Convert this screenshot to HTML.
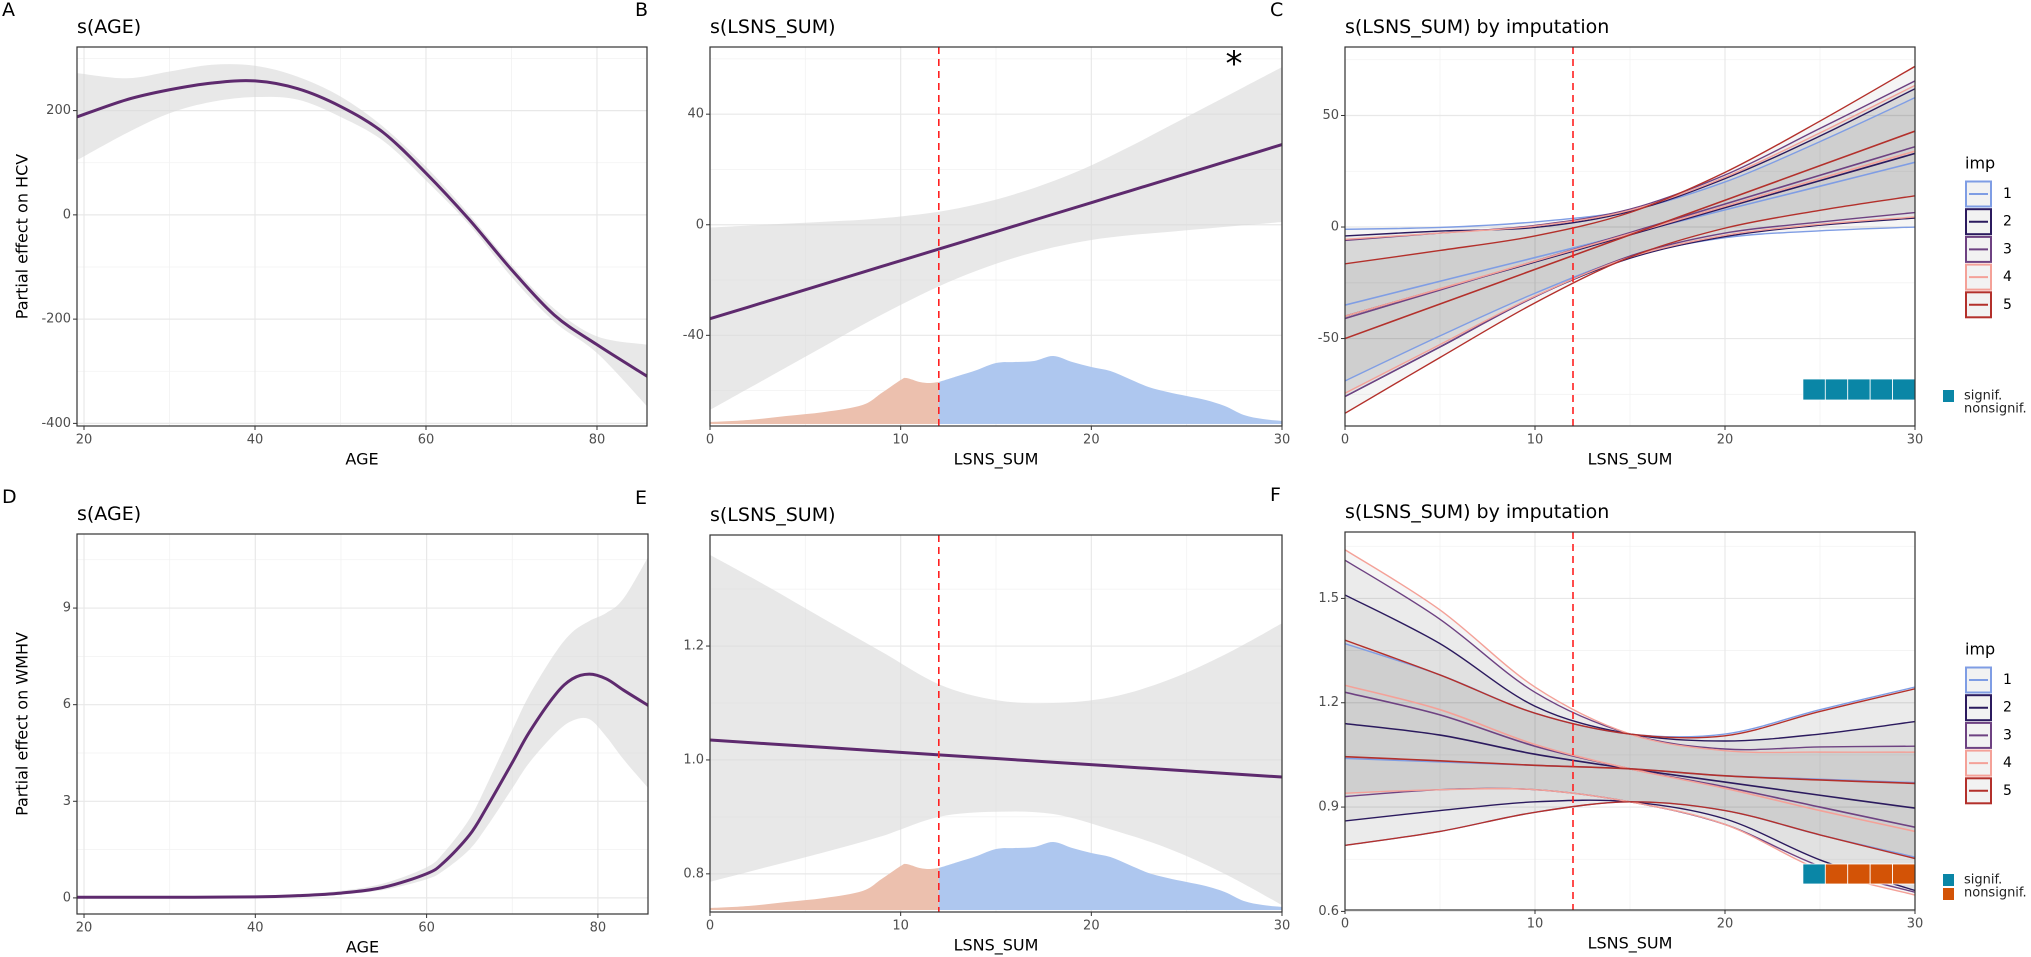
<!DOCTYPE html>
<html><head><meta charset="utf-8"><title>GAM partial effects</title>
<style>
html,body{margin:0;padding:0;background:#fff;}
svg{display:block;font-family:"DejaVu Sans","Liberation Sans",sans-serif;}
</style></head>
<body>
<svg id="chart" width="2031" height="957" viewBox="0 0 2031 957" xmlns="http://www.w3.org/2000/svg"></svg>
<script>
// ---------- data ----------
const AGE_X = [19.2,25,30,35,40,45,50,55,60,65,70,75,80,85.9];
const A_FIT = [188,221,240,253,257,242,208,158,80,-8,-105,-192,-249,-310];
const A_UP  = [272,262,275,288,286,265,227,169,92,2,-96,-180,-233,-249];
const A_LO  = [105,157,195,217,226,221,188,142,66,-18,-119,-205,-265,-368];

const D_X   = [19.2,30,40,45,50,55,60,62,65,67,70,72,75,77,79,81,83,85.9];
const D_FIT = [0.02,0.02,0.03,0.07,0.15,0.33,0.75,1.1,1.95,2.8,4.2,5.15,6.3,6.8,6.95,6.8,6.45,5.97];
const D_UP  = [0.05,0.05,0.06,0.12,0.22,0.45,0.95,1.4,2.45,3.5,5.2,6.3,7.6,8.25,8.6,8.85,9.3,10.6];
const D_LO  = [0,0,0,0.03,0.1,0.25,0.58,0.85,1.5,2.2,3.4,4.2,5.1,5.5,5.55,5.0,4.3,3.4];

const B_X   = [0,2,4,6,8,10,12,14,16,18,20,22,24,26,28,30];
const B_FIT = [-34,-29.8,-25.6,-21.4,-17.2,-13,-8.8,-4.6,-0.4,3.8,8,12.2,16.4,20.6,24.8,29];
const B_UP  = [-1,-0.3,0.4,1.1,1.8,3,4.7,7.4,11.1,15.8,21.5,28.2,35.4,42.6,49.8,57];
const B_LO  = [-67,-59.3,-51.6,-43.9,-36.2,-29,-22.3,-16.6,-11.9,-8.2,-5.5,-3.8,-2.6,-1.4,-0.2,1];

const E_X   = [0,3,6,9,12,15,18,21,24,27,30];
const E_FIT = [1.035,1.0285,1.022,1.0155,1.009,1.0025,0.996,0.9895,0.983,0.9765,0.97];
const E_UP  = [1.36,1.305,1.247,1.19,1.133,1.105,1.10,1.11,1.14,1.185,1.24];
const E_LO  = [0.786,0.812,0.838,0.866,0.9,0.909,0.905,0.878,0.845,0.80,0.745];

const DENS_X = [0,2,4,6,8,9,10,10.3,11,11.5,12,13,14,15,16,17,18,19,20,21,22,23,24,25,26,27,28,29,30];
const DENS_Y = [0.002,0.004,0.008,0.012,0.019,0.031,0.044,0.046,0.042,0.041,0.042,0.048,0.054,0.061,0.062,0.063,0.068,0.062,0.057,0.053,0.045,0.037,0.032,0.028,0.024,0.018,0.009,0.005,0.003];
const CUTOFF = 12;

const IMP_X = [0,5,10,15,20,25,30];
const C_FIT = [
  [-35,-24.3,-13.7,-3,7.7,18.3,29],
  [-40,-27.8,-15.7,-3.5,8.7,20.8,33],
  [-41,-28.2,-15.3,-2.5,10.3,23.2,36],
  [-40,-27.7,-15.3,-3,9.3,21.7,34],
  [-50,-34.5,-19,-3.5,12,27.5,43]];
const C_UP = [
  [-1,-0.2,2.3,7.5,20.2,38.3,58],
  [-4,-1.8,-0.2,7,21.7,40.8,62],
  [-6,-2.7,0.7,8,23.3,44.2,65.5],
  [-5.5,-2.7,0.4,7.5,22.3,42.2,63.5],
  [-16.5,-10.5,-4,6.5,24.5,47.5,72]];
const C_LO = [
  [-69,-48.8,-29.7,-13.5,-4.8,-1.7,0],
  [-76,-53.8,-31.2,-14,-4.3,0.8,4],
  [-76,-53.7,-31.3,-13,-2.7,2.2,6.5],
  [-74.5,-52.7,-31,-13.5,-3.7,1.2,4.5],
  [-83.5,-58.5,-34,-13.5,-0.5,7.5,14]];
const C_SIG = [1,1,1,1,1];

const F_FIT = [
  [1.04,1.03,1.02,1.01,0.99,0.98,0.97],
  [1.14,1.107,1.052,1.01,0.972,0.934,0.897],
  [1.23,1.165,1.075,1.01,0.958,0.90,0.842],
  [1.25,1.18,1.08,1.01,0.954,0.89,0.83],
  [1.045,1.033,1.02,1.01,0.99,0.978,0.968]];
const F_UP = [
  [1.37,1.28,1.17,1.11,1.11,1.18,1.245],
  [1.51,1.37,1.19,1.11,1.09,1.11,1.146],
  [1.61,1.44,1.23,1.11,1.067,1.073,1.075],
  [1.64,1.467,1.245,1.11,1.062,1.058,1.058],
  [1.38,1.28,1.17,1.11,1.105,1.175,1.24]];
const F_LO = [
  [0.79,0.83,0.885,0.915,0.89,0.82,0.756],
  [0.86,0.89,0.915,0.915,0.866,0.748,0.66],
  [0.93,0.95,0.95,0.915,0.85,0.73,0.655],
  [0.94,0.95,0.95,0.915,0.85,0.72,0.647],
  [0.79,0.83,0.885,0.915,0.89,0.82,0.752]];
const F_SIG = [1,0,0,0,0];
const SIG_START = 24.1;
const IMP_LABELS = ['1','2','3','4','5'];
const IMP_COLORS = ['#7f9de4','#2b1a5e','#6e4282','#f4a198','#b3302b'];

// ---------- helpers ----------
const NS='http://www.w3.org/2000/svg';
const svg=document.getElementById('chart');
function mk(tag, attrs, name, parent){
  const e=document.createElementNS(NS,tag);
  for(const k in attrs) e.setAttribute(k, attrs[k]);
  
  
  (parent||svg).appendChild(e);
  return e;
}
function text(x,y,s,name,opts){
  const o=Object.assign({size:13,fill:'#4d4d4d',anchor:'start'},opts||{});
  const t=mk('text',{x:x,y:y,'font-size':o.size,fill:o.fill,'text-anchor':o.anchor,'dominant-baseline':'central'},name,o.parent);
  if(o.rotate) t.setAttribute('transform','rotate(-90 '+x+' '+y+')');
  t.textContent=s;
  return t;
}
function seg(pts){
  let d='';
  for(let i=0;i<pts.length-1;i++){
    const p0=pts[i-1]||pts[i],p1=pts[i],p2=pts[i+1],p3=pts[i+2]||p2;
    const c1=[p1[0]+(p2[0]-p0[0])/6,p1[1]+(p2[1]-p0[1])/6];
    const c2=[p2[0]-(p3[0]-p1[0])/6,p2[1]-(p3[1]-p1[1])/6];
    d+=' C'+c1[0].toFixed(2)+','+c1[1].toFixed(2)+' '+c2[0].toFixed(2)+','+c2[1].toFixed(2)+' '+p2[0].toFixed(2)+','+p2[1].toFixed(2);
  }
  return d;
}
function linePath(P,xs,ys){const pts=xs.map((x,i)=>[P.sx(x),P.sy(ys[i])]);return 'M'+pts[0][0]+','+pts[0][1]+seg(pts);}
function bandPath(P,xs,up,lo){
  const a=xs.map((x,i)=>[P.sx(x),P.sy(up[i])]);
  const b=xs.map((x,i)=>[P.sx(x),P.sy(lo[i])]).reverse();
  return 'M'+a[0][0]+','+a[0][1]+seg(a)+' L'+b[0][0]+','+b[0][1]+seg(b)+' Z';
}

let clipId=0;
function panel(cfg){
  const P=Object.assign({},cfg);
  P.sx=v=>P.x0+(v-P.dx[0])/(P.dx[1]-P.dx[0])*(P.x1-P.x0);
  P.sy=v=>P.y1-(v-P.dy[0])/(P.dy[1]-P.dy[0])*(P.y1-P.y0);
  const g=mk('g',{},cfg.name);
  P.g=g;
  mk('rect',{x:P.x0,y:P.y0,width:P.x1-P.x0,height:P.y1-P.y0,fill:'#fff'},'panel-background',g);
  P.xm.forEach(v=>mk('line',{x1:P.sx(v),x2:P.sx(v),y1:P.y0,y2:P.y1,stroke:'#f2f2f2','stroke-width':0.8},'x-minor-gridline',g));
  P.ym.forEach(v=>{if(v>P.dy[0]&&v<P.dy[1])mk('line',{x1:P.x0,x2:P.x1,y1:P.sy(v),y2:P.sy(v),stroke:'#f2f2f2','stroke-width':0.8},'y-minor-gridline',g);});
  P.xt.forEach(v=>mk('line',{x1:P.sx(v),x2:P.sx(v),y1:P.y0,y2:P.y1,stroke:'#e8e8e8','stroke-width':1.2},'x-major-gridline',g));
  P.yt.forEach(v=>mk('line',{x1:P.x0,x2:P.x1,y1:P.sy(v),y2:P.sy(v),stroke:'#e8e8e8','stroke-width':1.2},'y-major-gridline',g));
  const cid='clip'+(clipId++);
  const cp=mk('clipPath',{id:cid},'clip-region',g);
  mk('rect',{x:P.x0,y:P.y0,width:P.x1-P.x0,height:P.y1-P.y0},'clip-rect',cp);
  P.data=mk('g',{'clip-path':'url(#'+cid+')'},'plot-area',g);
  return P;
}
function finish(P){
  const g=P.g;
  mk('rect',{x:P.x0,y:P.y0,width:P.x1-P.x0,height:P.y1-P.y0,fill:'none',stroke:'#333','stroke-width':1.2},'panel-border',g);
  P.xt.forEach((v,i)=>{
    mk('line',{x1:P.sx(v),x2:P.sx(v),y1:P.y1,y2:P.y1+4,stroke:'#333','stroke-width':1},'x-tick',g);
    text(P.sx(v),P.y1+14,P.xl[i],'x-tick-label',{anchor:'middle',parent:g});
  });
  P.yt.forEach((v,i)=>{
    mk('line',{x1:P.x0-4,x2:P.x0,y1:P.sy(v),y2:P.sy(v),stroke:'#333','stroke-width':1},'y-tick',g);
    text(P.x0-6,P.sy(v),P.yl[i],'y-tick-label',{anchor:'end',parent:g});
  });
  text((P.x0+P.x1)/2,P.y1+33,P.xtitle,'x-axis-title',{size:16,fill:'#000',anchor:'middle',parent:g});
  text(P.x0,P.y0-20,P.title,'panel-title',{size:19,fill:'#000',parent:g});
  text(P.x0-75,P.y0-37,P.letter,'panel-letter',{size:19,fill:'#000',parent:g,anchor:'start'});
  if(P.ytitle) text(22,(P.y0+P.y1)/2,P.ytitle,'y-axis-title',{size:16,fill:'#000',anchor:'middle',rotate:true,parent:g});
}
const PURPLE='#5e2a6e';

// ---------- A ----------
const PA=panel({name:'panel-a',x0:77,x1:647,y0:47,y1:426,dx:[19.18,85.85],dy:[-405,322],xt:[20,40,60,80],xl:['20','40','60','80'],xm:[30,50,70],yt:[-400,-200,0,200],yl:['-400','-200','0','200'],ym:[-300,-100,100,300],title:'s(AGE)',xtitle:'AGE',ytitle:'Partial effect on HCV',letter:'A'});
mk('path',{d:bandPath(PA,AGE_X,A_UP,A_LO),fill:'#d9d9d9','fill-opacity':0.6},'confidence-band',PA.data);
mk('path',{d:linePath(PA,AGE_X,A_FIT),fill:'none',stroke:PURPLE,'stroke-width':3},'smooth-line',PA.data);
finish(PA);

// ---------- D ----------
const PD=panel({name:'panel-d',x0:77,x1:648,y0:534,y1:914,dx:[19.18,85.85],dy:[-0.5,11.3],xt:[20,40,60,80],xl:['20','40','60','80'],xm:[30,50,70],yt:[0,3,6,9],yl:['0','3','6','9'],ym:[1.5,4.5,7.5,10.5],title:'s(AGE)',xtitle:'AGE',ytitle:'Partial effect on WMHV',letter:'D'});
mk('path',{d:bandPath(PD,D_X,D_UP,D_LO),fill:'#d9d9d9','fill-opacity':0.6},'confidence-band',PD.data);
mk('path',{d:linePath(PD,D_X,D_FIT),fill:'none',stroke:PURPLE,'stroke-width':3},'smooth-line',PD.data);
finish(PD);

// ---------- B / E ----------
function density(P){
  const base=P.y1-2, k=1000;
  const ptsL=[],ptsR=[];
  DENS_X.forEach((x,i)=>{const p=[P.sx(x),base-DENS_Y[i]*k]; if(x<=CUTOFF) ptsL.push(p); if(x>=CUTOFF) ptsR.push(p);});
  const mkArea=(pts)=>'M'+pts[0][0]+','+base+' L'+pts[0][0]+','+pts[0][1]+seg(pts)+' L'+pts[pts.length-1][0]+','+base+' Z';
  mk('path',{d:mkArea(ptsL),fill:'#ecc0ae'},'density-below-cutoff',P.data);
  mk('path',{d:mkArea(ptsR),fill:'#aec7ef'},'density-above-cutoff',P.data);
}
function cutLine(P){
  mk('line',{x1:P.sx(CUTOFF),x2:P.sx(CUTOFF),y1:P.y0,y2:P.y1,stroke:'#ff2020','stroke-width':1.6,'stroke-dasharray':'7,5'},'cutoff-line',P.data);
}
const PB=panel({name:'panel-b',x0:710,x1:1282,y0:47,y1:426,dx:[0,30],dy:[-72.8,64.3],xt:[0,10,20,30],xl:['0','10','20','30'],xm:[5,15,25],yt:[-40,0,40],yl:['-40','0','40'],ym:[-60,-20,20,60],title:'s(LSNS_SUM)',xtitle:'LSNS_SUM',letter:'B'});
mk('path',{d:bandPath(PB,B_X,B_UP,B_LO),fill:'#d9d9d9','fill-opacity':0.6},'confidence-band',PB.data);
density(PB);
mk('path',{d:linePath(PB,B_X,B_FIT),fill:'none',stroke:PURPLE,'stroke-width':3},'smooth-line',PB.data);
cutLine(PB);
finish(PB);
text(1234,64,'*','significance-asterisk',{size:34,fill:'#000',anchor:'middle'});

const PE=panel({name:'panel-e',x0:710,x1:1282,y0:535,y1:912,dx:[0,30],dy:[0.733,1.395],xt:[0,10,20,30],xl:['0','10','20','30'],xm:[5,15,25],yt:[0.8,1.0,1.2],yl:['0.8','1.0','1.2'],ym:[0.9,1.1,1.3],title:'s(LSNS_SUM)',xtitle:'LSNS_SUM',letter:'E'});
mk('path',{d:bandPath(PE,E_X,E_UP,E_LO),fill:'#d9d9d9','fill-opacity':0.6},'confidence-band',PE.data);
density(PE);
mk('path',{d:linePath(PE,E_X,E_FIT),fill:'none',stroke:PURPLE,'stroke-width':3},'smooth-line',PE.data);
cutLine(PE);
finish(PE);

// ---------- C / F ----------
function impPanel(P,FIT,UP,LO,SIG,sigY0,sigY1,legY,sigLegY,showNonsigSquare){
  FIT.forEach((f,i)=>mk('path',{d:bandPath(P,IMP_X,UP[i],LO[i]),fill:'#000','fill-opacity':0.04},'imp-band-'+IMP_LABELS[i],P.data));
  FIT.forEach((f,i)=>{
    mk('path',{d:linePath(P,IMP_X,UP[i]),fill:'none',stroke:IMP_COLORS[i],'stroke-width':1.4},'imp-upper-'+IMP_LABELS[i],P.data);
    mk('path',{d:linePath(P,IMP_X,LO[i]),fill:'none',stroke:IMP_COLORS[i],'stroke-width':1.4},'imp-lower-'+IMP_LABELS[i],P.data);
    mk('path',{d:linePath(P,IMP_X,f),fill:'none',stroke:IMP_COLORS[i],'stroke-width':1.6},'imp-fit-'+IMP_LABELS[i],P.data);
  });
  cutLine(P);
  const w=(30-SIG_START)/SIG.length;
  SIG.forEach((s,i)=>{
    const xa=P.sx(SIG_START+i*w), xb=P.sx(SIG_START+(i+1)*w);
    mk('rect',{x:xa,y:sigY0,width:xb-xa,height:sigY1-sigY0,fill:s?'#0a86a6':'#d35306',stroke:'#fff','stroke-width':0.8},'significance-cell',P.g);
  });
  finish(P);
  text(1965,legY,'imp','legend-title',{size:16,fill:'#000'});
  IMP_LABELS.forEach((lab,i)=>{
    const cy=legY+31+i*27.7;
    mk('rect',{x:1966,y:cy-12.5,width:25,height:25,fill:'#f2f2f2',stroke:IMP_COLORS[i],'stroke-width':2},'legend-key-'+lab,svg);
    mk('line',{x1:1969,x2:1988,y1:cy,y2:cy,stroke:IMP_COLORS[i],'stroke-width':2},'legend-key-line-'+lab,svg);
    text(2003,cy,lab,'legend-label',{size:14,fill:'#000'});
  });
  mk('rect',{x:1943,y:sigLegY-6,width:11,height:12,fill:'#0a86a6'},'legend-signif-square',svg);
  if(showNonsigSquare) mk('rect',{x:1943,y:sigLegY+8,width:11,height:12,fill:'#d35306'},'legend-nonsignif-square',svg);
  text(1964,sigLegY,'signif.','legend-signif-label',{size:13,fill:'#222'});
  text(1964,sigLegY+13,'nonsignif.','legend-nonsignif-label',{size:13,fill:'#222'});
}
const PC=panel({name:'panel-c',x0:1345,x1:1915,y0:47,y1:426,dx:[0,30],dy:[-89.2,80.7],xt:[0,10,20,30],xl:['0','10','20','30'],xm:[5,15,25],yt:[-50,0,50],yl:['-50','0','50'],ym:[-75,-25,25,75],title:'s(LSNS_SUM) by imputation',xtitle:'LSNS_SUM',letter:'C'});
impPanel(PC,C_FIT,C_UP,C_LO,C_SIG,379,400,163,396,false);

const PF=panel({name:'panel-f',x0:1345,x1:1915,y0:532,y1:910,dx:[0,30],dy:[0.604,1.691],xt:[0,10,20,30],xl:['0','10','20','30'],xm:[5,15,25],yt:[0.6,0.9,1.2,1.5],yl:['0.6','0.9','1.2','1.5'],ym:[0.75,1.05,1.35,1.65],title:'s(LSNS_SUM) by imputation',xtitle:'LSNS_SUM',letter:'F'});
impPanel(PF,F_FIT,F_UP,F_LO,F_SIG,864,884,649,880,true);
</script>
</body></html>
